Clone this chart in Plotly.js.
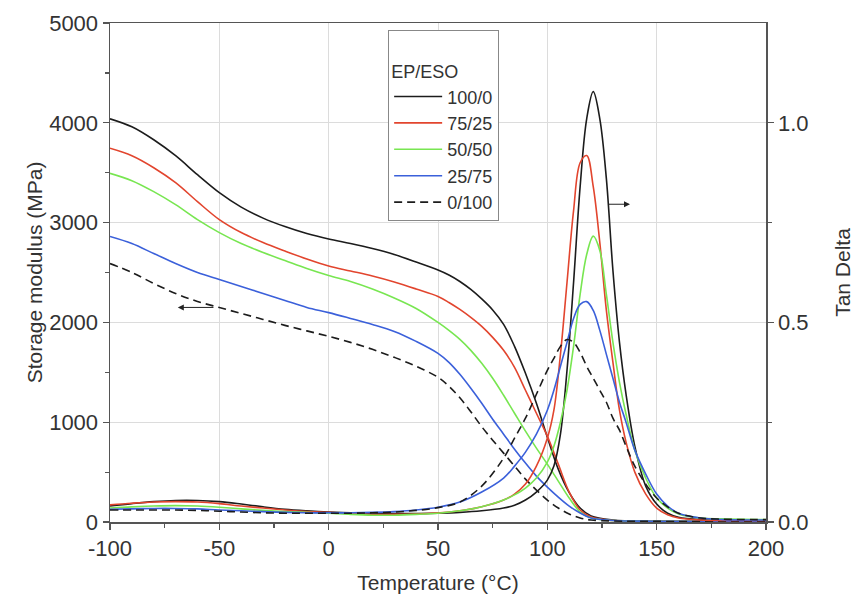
<!DOCTYPE html>
<html>
<head>
<meta charset="utf-8">
<script src="https://cdn.plot.ly/plotly-3.0.1.min.js"></script>
<style>html,body{margin:0;padding:0;background:#fff;}#chart{width:855px;height:597px;}</style>
</head>
<body>
<div id="chart"></div>
<script>
// Series names (EP/ESO ratio)
const seriesNames = ["100/0", "75/25", "50/50", "25/75", "0/100"];

// Storage modulus (MPa) vs temperature
const tempStorage = [-100,-90,-80,-70,-60,-50,-40,-30,-20,-10,0,10,20,30,40,50,55,60,65,70,75,80,85,90,95,100,105,110,115,120,130,150,200];
const storage100_0 = [4040,3960,3830,3670,3480,3300,3155,3045,2960,2890,2835,2790,2740,2680,2605,2525,2475,2410,2330,2235,2125,1980,1760,1490,1190,850,530,295,140,60,20,10,5];
const storage75_25 = [3745,3670,3550,3400,3210,3030,2900,2800,2715,2635,2565,2515,2465,2405,2335,2260,2200,2130,2050,1960,1850,1720,1550,1320,1090,860,580,300,120,50,15,8,5];
const storage50_50 = [3494,3420,3310,3180,3030,2900,2790,2700,2620,2540,2470,2410,2335,2245,2140,2000,1920,1830,1720,1590,1440,1270,1090,910,740,580,410,240,100,40,15,8,5];
const storage25_75 = [2861,2790,2690,2590,2500,2430,2360,2290,2220,2150,2098,2040,1980,1910,1810,1690,1600,1480,1340,1190,1030,880,730,590,460,350,250,160,90,40,15,8,5];
const storage0_100 = [2590,2500,2390,2290,2210,2149,2090,2030,1970,1915,1860,1800,1730,1650,1560,1450,1360,1245,1105,955,820,690,560,430,320,220,140,80,40,20,10,6,4];

// Tan delta vs temperature
const tempTan = [-100,-90,-80,-70,-60,-50,-40,-30,-20,-10,0,10,20,30,40,50,60,70,80,85,90,95,100,103,106,109,112,115,118,121,124,127,130,133,136,140,145,150,155,160,170,180,200];
const tan100_0 = [0.040,0.046,0.051,0.054,0.054,0.051,0.045,0.038,0.032,0.028,0.025,0.023,0.022,0.021,0.021,0.022,0.024,0.028,0.035,0.042,0.055,0.075,0.105,0.14,0.22,0.38,0.60,0.84,1.01,1.078,1.01,0.86,0.63,0.45,0.32,0.19,0.09,0.045,0.022,0.012,0.006,0.005,0.005];
const tan75_25 = [0.043,0.047,0.050,0.051,0.050,0.046,0.040,0.035,0.030,0.026,0.024,0.021,0.019,0.019,0.020,0.023,0.028,0.038,0.055,0.07,0.095,0.14,0.21,0.28,0.42,0.60,0.78,0.90,0.918,0.84,0.70,0.53,0.40,0.28,0.20,0.125,0.07,0.035,0.018,0.010,0.005,0.004,0.004];
const tan50_50 = [0.035,0.038,0.040,0.041,0.040,0.037,0.033,0.029,0.026,0.024,0.022,0.019,0.017,0.017,0.019,0.022,0.028,0.038,0.055,0.068,0.085,0.11,0.15,0.19,0.25,0.33,0.44,0.57,0.67,0.716,0.68,0.57,0.45,0.35,0.27,0.18,0.11,0.06,0.035,0.02,0.01,0.008,0.006];
const tan25_75 = [0.032,0.033,0.034,0.034,0.033,0.030,0.028,0.026,0.024,0.023,0.023,0.023,0.024,0.026,0.030,0.037,0.05,0.075,0.11,0.14,0.175,0.22,0.28,0.33,0.39,0.45,0.51,0.545,0.552,0.53,0.48,0.42,0.36,0.30,0.25,0.18,0.12,0.07,0.04,0.022,0.01,0.006,0.005];
const tan0_100 = [0.030,0.030,0.030,0.030,0.029,0.027,0.025,0.023,0.022,0.022,0.022,0.022,0.023,0.025,0.029,0.036,0.05,0.09,0.16,0.21,0.26,0.32,0.38,0.41,0.44,0.457,0.45,0.425,0.39,0.36,0.33,0.30,0.26,0.23,0.19,0.14,0.095,0.06,0.038,0.022,0.01,0.007,0.006];

// Tick labels
const xTickVals = [-100, -50, 0, 50, 100, 150, 200];
const xTickText = ["-100", "-50", "0", "50", "100", "150", "200"];
const y2TickVals = [0, 0.5, 1.0];
const y2TickText = ["0.0", "0.5", "1.0"];

const storageSeries = [storage100_0, storage75_25, storage50_50, storage25_75, storage0_100];
const tanSeries = [tan100_0, tan75_25, tan50_50, tan25_75, tan0_100];
const colors = ["#1c1c1c", "#e2452e", "#78e651", "#3b60da", "#1c1c1c"];
const dashes = ["solid", "solid", "solid", "solid", "8px,5px"];

const traces = [];
for (let i = 0; i < seriesNames.length; i++) {
  traces.push({
    x: tempStorage, y: storageSeries[i], type: "scatter", mode: "lines",
    name: seriesNames[i], legendgroup: "g" + i, showlegend: true,
    line: {color: colors[i], width: 1.6, dash: dashes[i], shape: "spline", smoothing: 1},
    yaxis: "y"
  });
  traces.push({
    x: tempTan, y: tanSeries[i], type: "scatter", mode: "lines",
    name: seriesNames[i], legendgroup: "g" + i, showlegend: false,
    line: {color: colors[i], width: 1.6, dash: dashes[i], shape: "spline", smoothing: 1},
    yaxis: "y2"
  });
}

const fontFam = "Liberation Sans, Arial, sans-serif";
const axisCol = "#555";
const textCol = "#333";

const layout = {
  width: 855, height: 597,
  margin: {l: 110, r: 89, t: 23, b: 75},
  paper_bgcolor: "#fff", plot_bgcolor: "#fff",
  font: {family: fontFam, size: 18, color: textCol},
  showlegend: true,
  xaxis: {
    range: [-100, 200], tickvals: xTickVals, ticktext: xTickText,
    ticks: "outside", ticklen: 6, tickwidth: 1.2, tickcolor: axisCol,
    showline: true, linecolor: axisCol, linewidth: 1.5, mirror: true,
    showgrid: true, gridcolor: "#dcdcdc", gridwidth: 1, zeroline: false,
    minor: {dtick: 25, ticks: "outside", ticklen: 4, tickcolor: axisCol, showgrid: false},
    tickfont: {size: 22, color: textCol},
    title: {text: "Temperature (°C)", font: {size: 21, color: textCol}, standoff: 15}
  },
  yaxis: {
    range: [0, 5000], dtick: 1000,
    ticks: "outside", ticklen: 6, tickwidth: 1.2, tickcolor: axisCol,
    showline: true, linecolor: axisCol, linewidth: 1.5,
    showgrid: true, gridcolor: "#dcdcdc", gridwidth: 1, zeroline: false,
    minor: {dtick: 500, ticks: "outside", ticklen: 4, tickcolor: axisCol, showgrid: false},
    tickfont: {size: 22, color: textCol},
    title: {text: "Storage modulus (MPa)", font: {size: 21, color: textCol}, standoff: 1}
  },
  yaxis2: {
    overlaying: "y", side: "right", range: [0, 1.25],
    tickvals: y2TickVals, ticktext: y2TickText,
    ticks: "outside", ticklen: 6, tickwidth: 1.2, tickcolor: axisCol,
    showline: true, linecolor: axisCol, linewidth: 1.5,
    showgrid: false, zeroline: false,
    minor: {tickvals: [0.25, 0.75], ticks: "outside", ticklen: 4, tickcolor: axisCol, showgrid: false},
    tickfont: {size: 22, color: textCol},
    title: {text: "Tan Delta", font: {size: 21, color: textCol}, standoff: 28}
  },
  legend: {
    x: 0.424, y: 0.985, xanchor: "left", yanchor: "top",
    bgcolor: "#fff", bordercolor: "#888", borderwidth: 1,
    font: {size: 18, color: textCol},
    title: {text: " <br>EP/ESO", font: {size: 18, color: textCol}},
    traceorder: "grouped", tracegroupgap: 0, itemwidth: 48,
    entrywidth: 88, entrywidthmode: "pixels"
  },
  annotations: [
    {x: -69, y: 2150, xref: "x", yref: "y", ax: -52, ay: 2150, axref: "x", ayref: "y",
     text: "", showarrow: true, arrowhead: 2, arrowsize: 1.2, arrowwidth: 1, arrowcolor: "#222"},
    {x: 137.8, y: 0.796, xref: "x", yref: "y2", ax: 127.3, ay: 0.796, axref: "x", ayref: "y2",
     text: "", showarrow: true, arrowhead: 2, arrowsize: 1.2, arrowwidth: 1, arrowcolor: "#222"}
  ]
};

Plotly.newPlot("chart", traces, layout, {displayModeBar: false, staticPlot: true});
</script>
</body>
</html>
